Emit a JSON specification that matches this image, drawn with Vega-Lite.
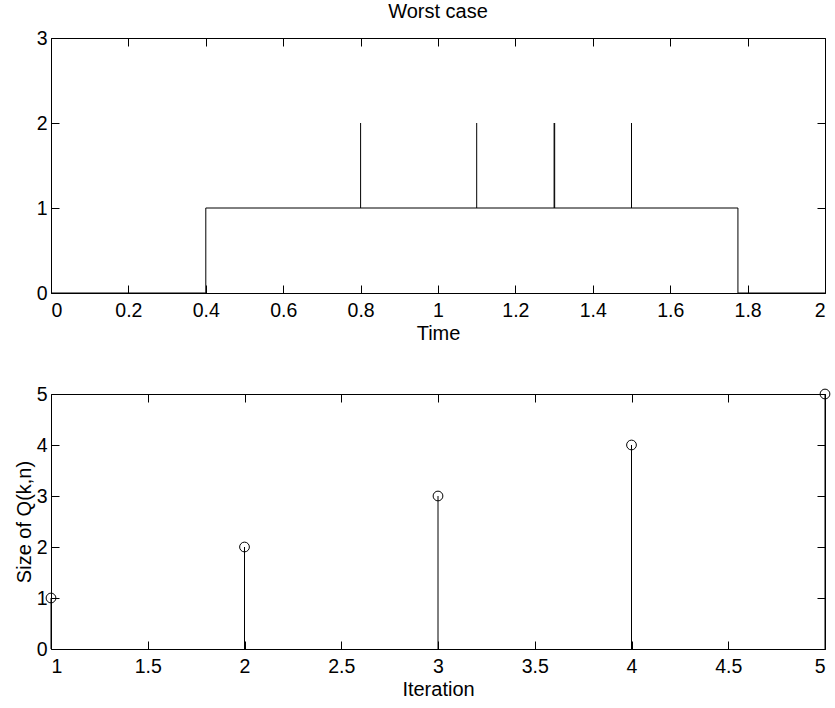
{
  "$schema": "https://vega.github.io/schema/vega-lite/v6.json",
  "background": "white",
  "padding": {"left": 14, "top": 2, "right": 8, "bottom": 5},
  "config": {
    "font": "Liberation Sans",
    "view": {"stroke": null},
    "axis": {
      "grid": false,
      "domainColor": "black",
      "tickColor": "black",
      "labelColor": "black",
      "titleColor": "black",
      "labelFont": "Liberation Sans",
      "titleFont": "Liberation Sans",
      "labelFontSize": 19.5,
      "titleFontSize": 20,
      "titleFontWeight": "normal",
      "tickSize": -8,
      "domainWidth": 1,
      "tickWidth": 1
    },
    "axisX": {"labelPadding": 16},
    "axisY": {"labelPadding": 12},
    "title": {"font": "Liberation Sans", "fontSize": 20, "fontWeight": "normal", "color": "black"}
  },
  "spacing": 40,
  "vconcat": [
    {
      "title": {"text": "Worst case", "offset": 6},
      "width": 774,
      "height": 255,
      "layer": [
        {
          "data": {"values": [{"t": 0, "v": 0}, {"t": 0.4, "v": 1}, {"t": 1.775, "v": 0}, {"t": 2, "v": 0}]},
          "mark": {"type": "line", "interpolate": "step-after", "color": "black", "strokeWidth": 1},
          "encoding": {
            "x": {"field": "t", "type": "quantitative", "scale": {"domain": [0, 2], "nice": false, "zero": false},
                  "axis": {"title": "Time", "values": [0, 0.2, 0.4, 0.6, 0.8, 1, 1.2, 1.4, 1.6, 1.8, 2], "format": "~g", "titlePadding": 4}},
            "y": {"field": "v", "type": "quantitative", "scale": {"domain": [0, 3], "nice": false},
                  "axis": {"title": null, "values": [0, 1, 2, 3]}}
          }
        },
        {
          "data": {"values": [{"t": 0.8, "lo": 1, "hi": 2}, {"t": 1.1, "lo": 1, "hi": 2}, {"t": 1.3, "lo": 1, "hi": 2}, {"t": 1.3015, "lo": 1, "hi": 2}, {"t": 1.5, "lo": 1, "hi": 2}]},
          "mark": {"type": "rule", "color": "black", "strokeWidth": 1},
          "encoding": {
            "x": {"field": "t", "type": "quantitative",
                  "axis": {"orient": "top", "labels": false, "title": null, "values": [0, 0.2, 0.4, 0.6, 0.8, 1, 1.2, 1.4, 1.6, 1.8, 2]}},
            "y": {"field": "lo", "type": "quantitative",
                  "axis": {"orient": "right", "labels": false, "title": null, "values": [0, 1, 2, 3]}},
            "y2": {"field": "hi"}
          }
        }
      ],
      "resolve": {"axis": {"x": "independent", "y": "independent"}}
    },
    {
      "width": 774,
      "height": 255,
      "data": {"values": [{"k": 1, "q": 1}, {"k": 2, "q": 2}, {"k": 3, "q": 3}, {"k": 4, "q": 4}, {"k": 5, "q": 5}]},
      "layer": [
        {
          "mark": {"type": "rule", "color": "black", "strokeWidth": 1},
          "encoding": {
            "x": {"field": "k", "type": "quantitative", "scale": {"domain": [1, 5], "nice": false, "zero": false},
                  "axis": {"title": "Iteration", "values": [1, 1.5, 2, 2.5, 3, 3.5, 4, 4.5, 5], "format": "~g", "titlePadding": 4}},
            "y": {"field": "q", "type": "quantitative", "scale": {"domain": [0, 5], "nice": false},
                  "axis": {"title": "Size of Q(k,n)", "values": [0, 1, 2, 3, 4, 5], "titlePadding": 2}},
            "y2": {"datum": 0}
          }
        },
        {
          "mark": {"type": "point", "shape": "circle", "filled": false, "color": "black", "strokeWidth": 1, "size": 95, "opacity": 1},
          "encoding": {
            "x": {"field": "k", "type": "quantitative",
                  "axis": {"orient": "top", "labels": false, "title": null, "values": [1, 1.5, 2, 2.5, 3, 3.5, 4, 4.5, 5]}},
            "y": {"field": "q", "type": "quantitative",
                  "axis": {"orient": "right", "labels": false, "title": null, "values": [0, 1, 2, 3, 4, 5]}}
          }
        }
      ],
      "resolve": {"axis": {"x": "independent", "y": "independent"}}
    }
  ]
}
